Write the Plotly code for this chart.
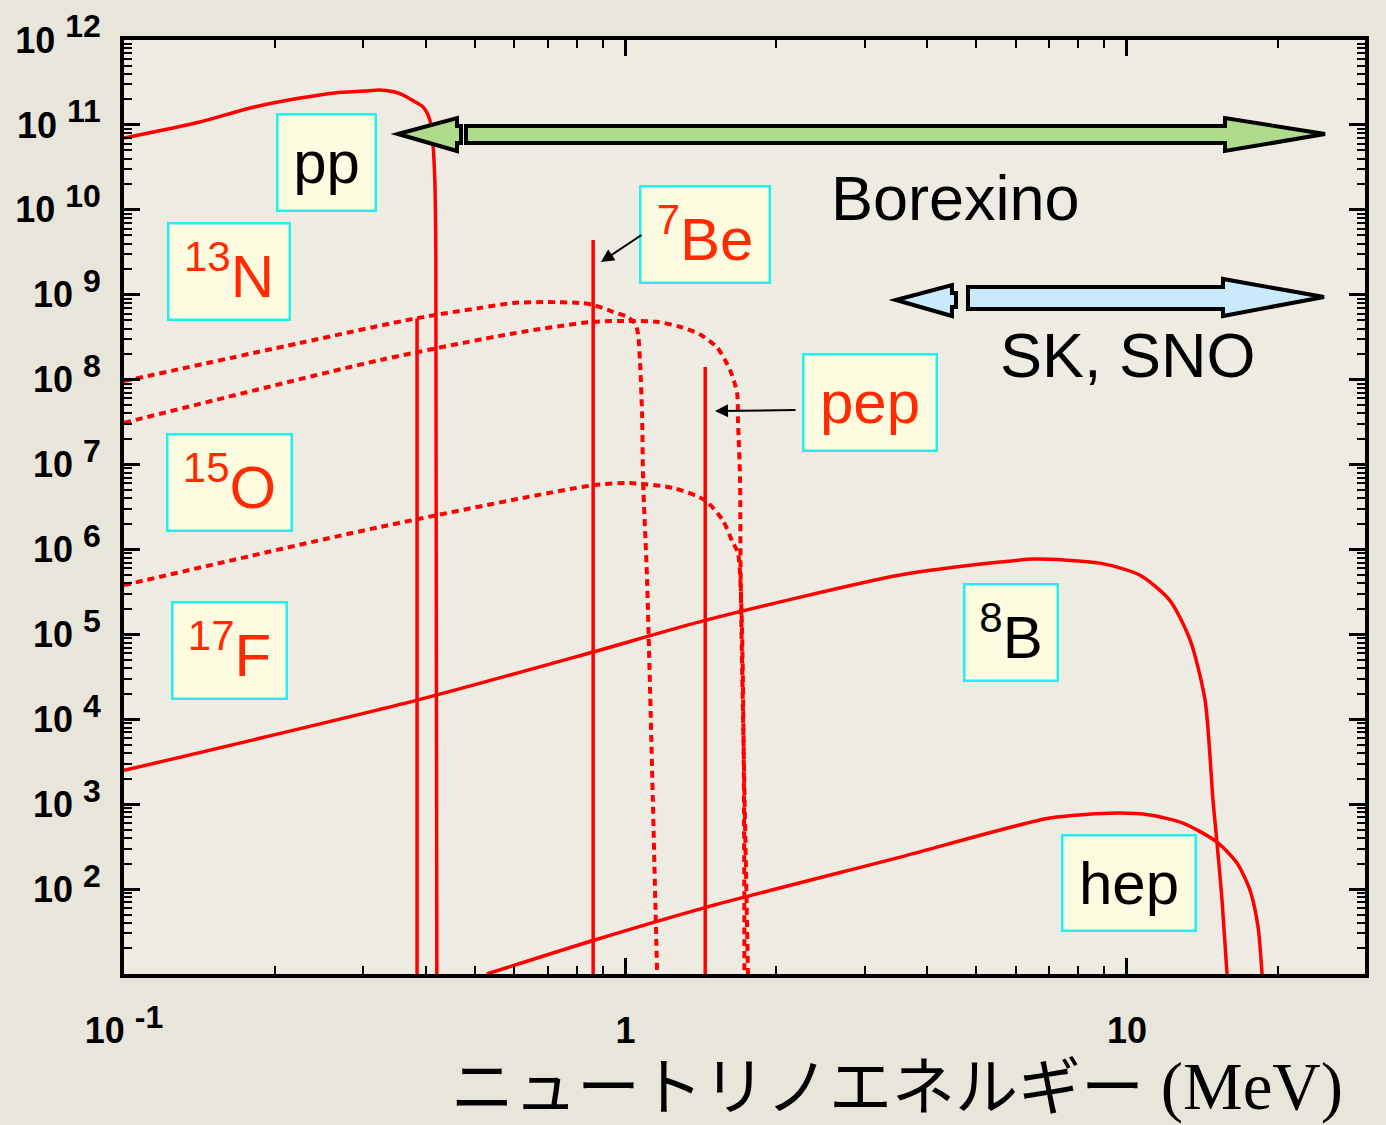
import plotly.graph_objects as go

# ---------------- data ----------------
pp_E = [0.1, 0.1417, 0.1783, 0.2244, 0.2634, 0.3, 0.324, 0.347, 0.3634, 0.3752, 0.3946, 0.4073, 0.4129, 0.4167, 0.4186, 0.4205]
pp_F = [7.0e10, 1.08e11, 1.58e11, 2.07e11, 2.38e11, 2.5e11, 2.58e11, 2.44e11, 2.19e11, 1.96e11, 1.63e11, 1.14e11, 6.1e10, 2.2e10, 2.6e9, 10]

n13_E = [0.1, 0.224, 0.384, 0.513, 0.597, 0.698, 0.812, 0.862, 0.944, 1.007, 1.045, 1.059, 1.069, 1.079, 1.084, 1.104, 1.156]
n13_F = [9.6e7, 2.7e8, 5.3e8, 7.0e8, 8.0e8, 8.2e8, 8.0e8, 7.6e8, 6.3e8, 5.5e8, 4.6e8, 3.5e8, 1.6e8, 4.0e7, 6.6e6, 4.4e5, 10]

o15_E = [0.1, 0.324, 0.597, 0.862, 1.035, 1.156, 1.284, 1.408, 1.522, 1.616, 1.669, 1.676, 1.692, 1.697, 1.755]
o15_F = [3.1e7, 1.7e8, 3.5e8, 4.8e8, 4.9e8, 4.8e8, 4.2e8, 3.4e8, 2.4e8, 1.3e8, 7.0e7, 3.3e7, 6.6e6, 4.4e5, 10]

f17_E = [0.1, 0.324, 0.862, 1.021, 1.244, 1.440, 1.564, 1.638, 1.676, 1.726]
f17_F = [3.8e5, 1.84e6, 5.7e6, 6.05e6, 5.3e6, 3.8e6, 2.2e6, 1.19e6, 9.1e5, 10]

b8_E = [0.1, 0.384, 0.862, 1.447, 3.53, 5.58, 6.56, 8.83, 10.6, 12.18, 13.36, 14.31, 14.84, 15.12, 15.47, 15.83]
b8_F = [2.5e3, 1.68e4, 6.2e4, 1.47e5, 5.0e5, 7.1e5, 7.7e5, 6.9e5, 5.0e5, 2.5e5, 8.6e4, 1.68e4, 1.12e3, 348, 74, 10]

hep_E = [0.529, 0.865, 1.447, 3.53, 7.02, 9.55, 11.1, 12.93, 15.12, 16.58, 17.59, 18.25, 18.59]
hep_F = [10, 25, 61, 238, 686, 785, 745, 598, 358, 202, 97, 36, 10]

line_E = [0.384, 0.862, 1.442]          # 7Be, 7Be, pep
line_top = [5.3e8, 4.4e9, 1.41e8]
line_bottom = 10

y_tick_exp = list(range(2, 13))
x_tick_vals = [0.1, 1, 10]
x_tick_text = ["<b>10 <sup><span style='font-size:32px'>-1</span></sup></b>", "<b>1</b>", "<b>10</b>"]

box_labels = ["pp", "<sup>13</sup>N", "<sup>15</sup>O", "<sup>17</sup>F",
              "<sup>7</sup>Be", "pep", "<sup>8</sup>B", "hep"]
box_colors = ["black", "#ff2a00", "#ff2a00", "#ff2a00", "#ff2a00", "#ff2a00", "black", "black"]
# box geometry in pixels: (left, top, right, bottom)
box_geom = [(276, 113, 377, 212), (167, 222, 291, 321), (166, 433, 293, 532), (171, 601, 288, 700),
            (639, 185, 771, 284), (802, 353, 938, 452), (963, 583, 1059, 682), (1061, 834, 1197, 932)]

# ---------------- figure ----------------
W, H = 1386, 1125
L, R, T, B = 124, 21, 40, 151
PW, PH = W - L - R, H - T - B


def pap(px, py):
    return (px - L) / PW, (T + PH - py) / PH


RED = "#ff0000"
fig = go.Figure()

solid = dict(color=RED, width=3.5, shape="spline", smoothing=0.7)
dotted = dict(color=RED, width=4, dash="7px,5px", shape="spline", smoothing=0.7)
vline = dict(color=RED, width=3.5)

for E, F, ln in [(pp_E, pp_F, solid), (n13_E, n13_F, dotted), (o15_E, o15_F, dotted),
                 (f17_E, f17_F, dotted), (b8_E, b8_F, solid), (hep_E, hep_F, solid)]:
    fig.add_trace(go.Scatter(x=E, y=F, mode="lines", line=ln, showlegend=False, hoverinfo="skip"))

for e, top in zip(line_E, line_top):
    fig.add_trace(go.Scatter(x=[e, e], y=[line_bottom, top], mode="lines", line=vline,
                             showlegend=False, hoverinfo="skip"))

ann = []
LABEL_FONT = "Liberation Sans, Arial, sans-serif"
for txt, col, (x0, y0, x1, y1) in zip(box_labels, box_colors, box_geom):
    cx, cy = pap((x0 + x1) / 2, (y0 + y1) / 2)
    ann.append(dict(x=cx, y=cy, xref="paper", yref="paper", text=txt, showarrow=False,
                    xanchor="center", yanchor="middle", width=x1 - x0 - 5, height=y1 - y0 - 5,
                    bgcolor="#fdfbe0", bordercolor="#22f0f0", borderwidth=2.5, borderpad=0,
                    font=dict(family=LABEL_FONT, size=60, color=col), align="center", valign="middle"))

for txt, (cx, cy) in [("Borexino", (955, 198)), ("SK, SNO", (1128, 355))]:
    x, y = pap(cx, cy)
    ann.append(dict(x=x, y=y, xref="paper", yref="paper", text=txt, showarrow=False,
                    xanchor="center", yanchor="middle",
                    font=dict(family=LABEL_FONT, size=63, color="black")))

# small pointer arrows
for (tx, ty), (sx, sy) in [((601, 262), (643, 234)), ((715, 411), (797, 410))]:
    x, y = pap(tx, ty)
    ann.append(dict(x=x, y=y, xref="paper", yref="paper", text="", showarrow=True,
                    ax=sx - tx, ay=sy - ty, arrowhead=2, arrowsize=1.3, arrowwidth=2,
                    arrowcolor="black"))

# x-axis title
x, y = pap(1345, 1081)
ann.append(dict(x=x, y=y, xref="paper", yref="paper", showarrow=False, xanchor="right", yanchor="middle",
                text="<span style='font-family:Noto Sans CJK JP'>ニュートリノエネルギー</span>"
                     "<span style='font-family:Liberation Serif;font-size:67px'> (MeV)</span>",
                font=dict(family="Noto Sans CJK JP", size=63, color="black")))

# block arrows (Borexino, SK/SNO)
def poly(pts):
    s = ""
    for i, (px, py) in enumerate(pts):
        x, y = pap(px, py)
        s += ("M" if i == 0 else "L") + f"{x:.5f},{y:.5f} "
    return s + "Z"

arrows = [
    ("#addb8b", [(398, 134), (457, 118), (457, 126), (461, 126), (461, 143), (457, 143), (457, 151)]),
    ("#addb8b", [(466, 126), (1225, 126), (1225, 118), (1325, 134), (1225, 151), (1225, 143), (466, 143)]),
    ("#c8eafa", [(896, 300), (952, 285), (952, 293), (956, 293), (956, 307), (952, 307), (952, 316)]),
    ("#c8eafa", [(968, 287), (1223, 287), (1223, 279), (1324, 297), (1223, 316), (1223, 309), (968, 309)]),
]
shapes = [dict(type="path", xref="paper", yref="paper", path=poly(p), fillcolor=c,
               line=dict(color="black", width=4), layer="above") for c, p in arrows]

axis_common = dict(showline=True, linecolor="black", linewidth=4, mirror="ticks",
                   ticks="inside", ticklen=16, tickwidth=3, tickcolor="black",
                   showgrid=False, zeroline=False, automargin=False,
                   tickfont=dict(family="Liberation Sans, Arial", size=36, color="black"),
                   minor=dict(ticks="inside", ticklen=8, tickwidth=2, tickcolor="black", dtick="D1",
                              showgrid=False))

fig.update_layout(
    width=W, height=H,
    margin=dict(l=L, r=R, t=T, b=B, pad=0, autoexpand=False),
    paper_bgcolor="#e8e5db", plot_bgcolor="#eeece2",
    xaxis=dict(type="log", range=[-1, 1.4746], tickmode="array", tickvals=x_tick_vals,
               ticktext=x_tick_text, ticklabelstandoff=22, **axis_common),
    yaxis=dict(type="log", range=[1, 12], tickmode="array", tickvals=[10 ** e for e in y_tick_exp],
               ticktext=[f"<b>10 <sup><span style='font-size:32px'>{e}</span></sup></b>" for e in y_tick_exp],
               ticklabelstandoff=12, **axis_common),
    annotations=ann, shapes=shapes,
)

fig.write_html("out.html")
